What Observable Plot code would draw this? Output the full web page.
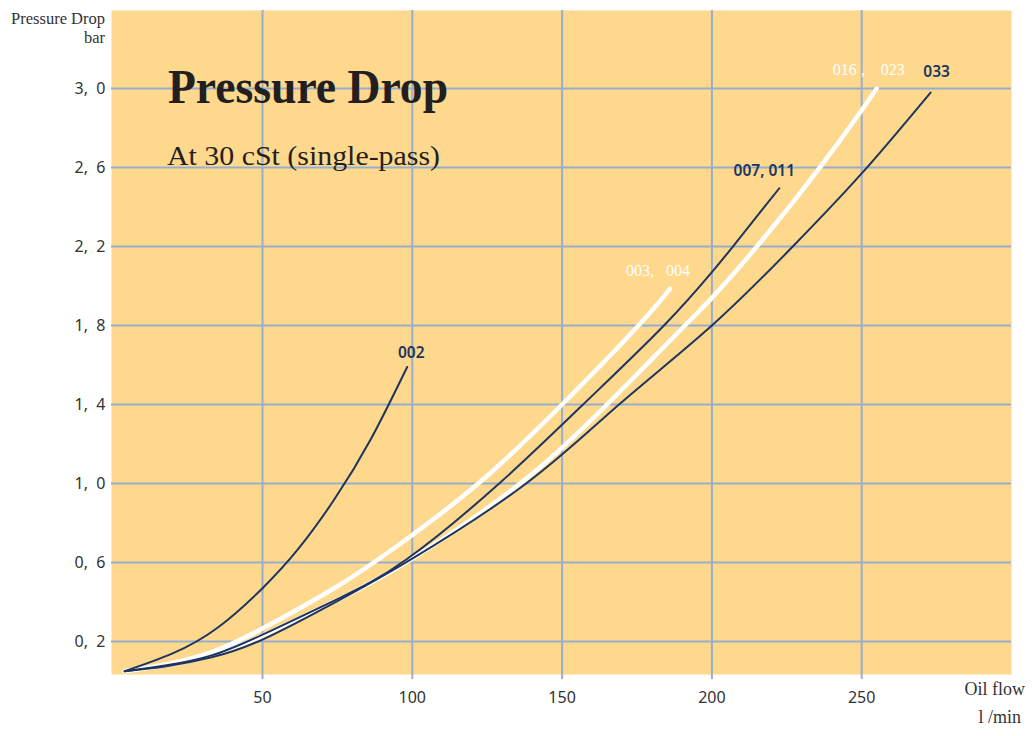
<!DOCTYPE html>
<html>
<head>
<meta charset="utf-8">
<script src="https://cdn.jsdelivr.net/npm/d3@7"></script>
<script src="https://cdn.jsdelivr.net/npm/@observablehq/plot@0.6"></script>
<style>
  html, body { margin: 0; padding: 0; background: #ffffff; }
  #chart { position: relative; width: 1033px; height: 736px; }
</style>
</head>
<body>
<div id="chart"></div>
<script>
// ---- data ----
const xTicks = [50, 100, 150, 200, 250];
const yTicks = [0.2, 0.6, 1.0, 1.4, 1.8, 2.2, 2.6, 3.0];

const flow002 = [4, 20, 35, 50, 62, 74, 86, 98.3];
const dp002   = [0.05, 0.14, 0.27, 0.47, 0.67, 0.92, 1.22, 1.59];

const flow003 = [4, 18, 33, 50, 75, 96, 122, 150, 175.5, 186];
const dp003   = [0.05, 0.085, 0.146, 0.266, 0.48, 0.695, 1.0, 1.4, 1.8, 1.985];

const flow007 = [4, 18, 33, 50, 75, 98, 129, 157, 184, 200, 207, 222.5];
const dp007   = [0.05, 0.08, 0.13, 0.235, 0.415, 0.615, 1.0, 1.4, 1.8, 2.07, 2.2, 2.495];

const flow016 = [4, 18, 33, 50, 75, 100, 136, 165, 191, 200, 215, 236, 250, 255];
const dp016   = [0.05, 0.08, 0.13, 0.23, 0.41, 0.62, 1.0, 1.4, 1.8, 1.94, 2.2, 2.6, 2.89, 3.0];

const flow033 = [4, 18, 33, 50, 75, 100, 138, 169, 200, 227, 250, 273];
const dp033   = [0.05, 0.075, 0.12, 0.21, 0.405, 0.62, 1.0, 1.4, 1.8, 2.2, 2.57, 2.98];

const seriesIds    = ["002", "003", "007", "016", "033"];
const seriesLabels = ["002", "003,\u00a0\u00a0\u00a0004", "007, 011", "016\u00a0,\u00a0\u00a0\u00a0\u00a0023", "033"];
const seriesWhite  = [false, true, false, true, false];

// ---- build tables ----
const flows = [flow002, flow003, flow007, flow016, flow033];
const dps   = [dp002, dp003, dp007, dp016, dp033];
const rows = [];
seriesIds.forEach((id, i) => {
  flows[i].forEach((f, j) => rows.push({id, flow: f, dp: dps[i][j], white: seriesWhite[i]}));
});
const ends = seriesIds.map((id, i) => ({
  id, label: seriesLabels[i], white: seriesWhite[i],
  flow: flows[i][flows[i].length - 1], dp: dps[i][dps[i].length - 1]
}));
const labelOffsets = {"002": [4, -14], "003": [-12, -18], "007": [-15, -17], "016": [-8, -19], "033": [6, -20]};

const BG = "#FDD88D";
const GRID = "#97AECD";
const NAVY = "#1F3560";

const plot = Plot.plot({
  width: 1033,
  height: 736,
  marginTop: 10,
  marginBottom: 62,
  marginLeft: 111,
  marginRight: 22,
  style: {fontFamily: "'Noto Sans', sans-serif", fontSize: "16px", color: "#333", background: "#ffffff"},
  x: {domain: [-0.4, 300], label: null},
  y: {domain: [0.033, 3.395], label: null},
  marks: [
    Plot.frame({fill: BG, stroke: "none"}),
    Plot.gridY(yTicks, {stroke: GRID, strokeOpacity: 1, strokeWidth: 2}),
    Plot.gridX(xTicks, {stroke: GRID, strokeOpacity: 1, strokeWidth: 2}),
    Plot.axisX(xTicks, {tickSize: 5, stroke: GRID, strokeWidth: 2, strokeOpacity: 1, fill: "#333", fontSize: 16, tickPadding: 12, label: null}),
    Plot.axisY(yTicks, {tickSize: 0, tickPadding: 6, fill: "#333", fontSize: 16, label: null,
      tickFormat: d => d.toFixed(1).replace(".", ",\u00a0\u00a0")}),
    Plot.line(rows.filter(d => d.white), {x: "flow", y: "dp", z: "id", stroke: "#ffffff", strokeWidth: 4.5, curve: "natural"}),
    Plot.line(rows.filter(d => !d.white), {x: "flow", y: "dp", z: "id", stroke: NAVY, strokeWidth: 2, curve: "natural"}),
    ...ends.map(e => Plot.text([e], {
      x: "flow", y: "dp", text: "label",
      dx: labelOffsets[e.id][0], dy: labelOffsets[e.id][1],
      fill: e.white ? "#ffffff" : NAVY,
      fontFamily: e.white ? "'Liberation Serif', serif" : "'Noto Sans', sans-serif",
      fontWeight: e.white ? "normal" : 600,
      fontSize: e.white ? 16 : 15.5
    }))
  ]
});

document.getElementById("chart").appendChild(plot);

// ---- titles and axis titles ----
const svg = d3.select(plot);
function addText(txt, x, y, opts) {
  const t = svg.append("text").attr("x", x).attr("y", y).text(txt)
    .attr("font-family", opts.family || "'Liberation Serif', serif")
    .attr("font-size", opts.size)
    .attr("fill", opts.fill || "#231f20")
    .attr("text-anchor", opts.anchor || "start");
  if (opts.weight) t.attr("font-weight", opts.weight);
  if (opts.len) t.attr("textLength", opts.len).attr("lengthAdjust", "spacingAndGlyphs");
  return t;
}
addText("Pressure Drop", 168, 103, {size: 48, weight: "bold", len: 280});
addText("At 30 cSt (single-pass)", 167, 165, {size: 28, len: 273});
addText("Pressure Drop", 105, 24, {size: 16.5, anchor: "end", fill: "#333"});
addText("bar", 105, 43, {size: 16.5, anchor: "end", fill: "#333"});
addText("Oil flow", 1025, 695, {size: 18, anchor: "end", fill: "#333"});
addText("l /min", 1021, 723, {size: 18, anchor: "end", fill: "#333"});
</script>
</body>
</html>
